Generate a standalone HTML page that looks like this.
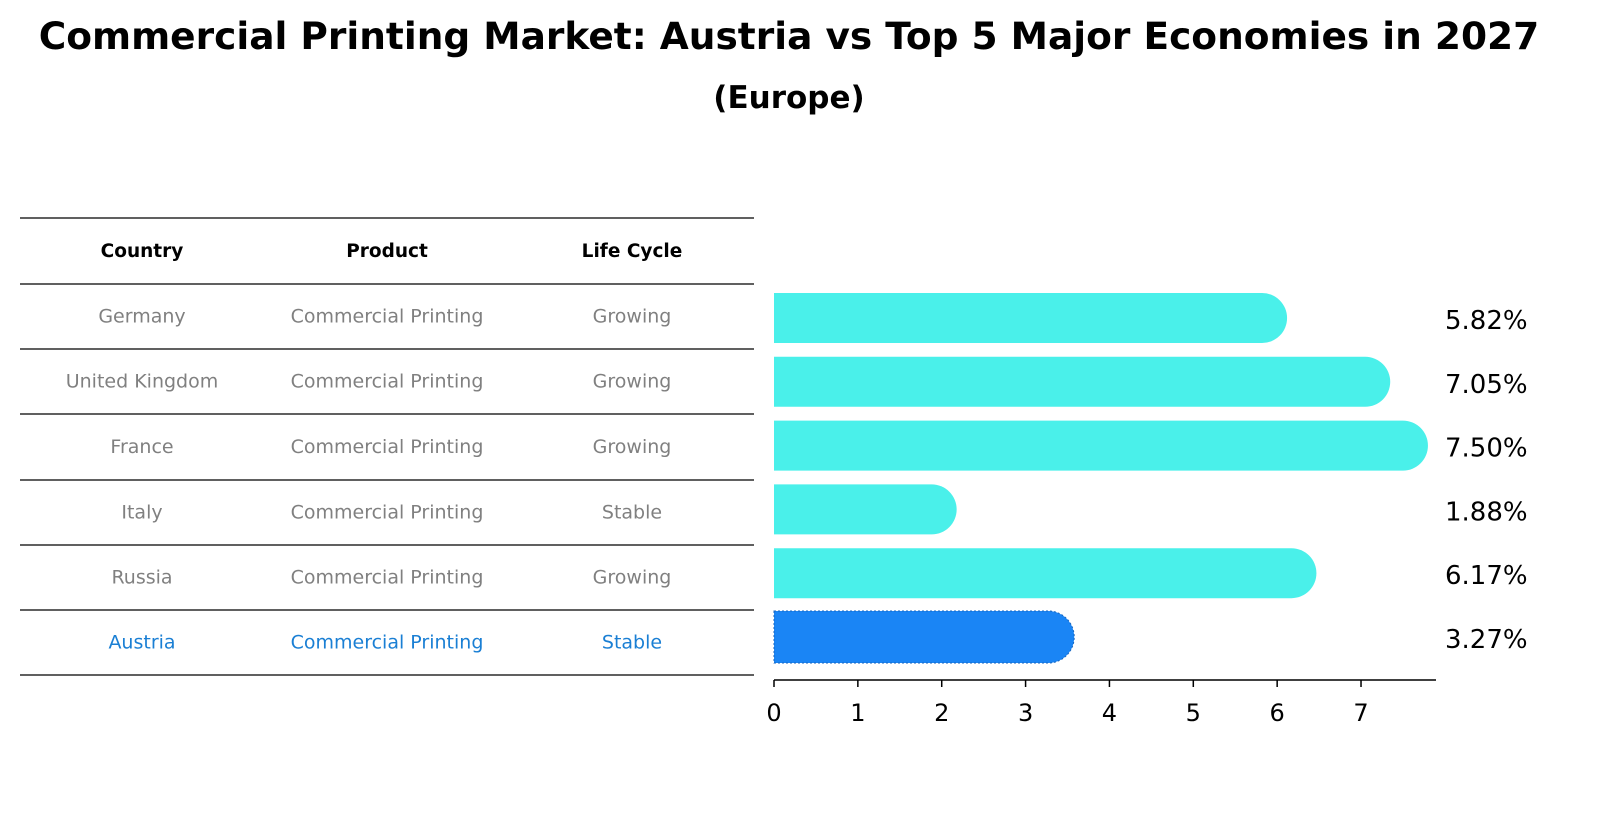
<!DOCTYPE html>
<html><head><meta charset="utf-8"><style>
body{margin:0;background:#fff;width:1604px;height:823px;overflow:hidden;font-family:"DejaVu Sans","Liberation Sans",sans-serif}
</style></head><body>
<svg width="1604" height="823" xmlns="http://www.w3.org/2000/svg" font-family="DejaVu Sans, Liberation Sans, sans-serif">
<text x="789" y="49" text-anchor="middle" font-size="37.5" font-weight="bold">Commercial Printing Market: Austria vs Top 5 Major Economies in 2027</text>
<text x="789" y="108" text-anchor="middle" font-size="31" font-weight="bold">(Europe)</text>
<g id="table"></g>
<g id="bars"></g>
</svg>
<script>
const countries=["Germany","United Kingdom","France","Italy","Russia","Austria"];
const products=["Commercial Printing","Commercial Printing","Commercial Printing","Commercial Printing","Commercial Printing","Commercial Printing"];
const lifecycle=["Growing","Growing","Growing","Stable","Growing","Stable"];
const values=[5.82,7.05,7.50,1.88,6.17,3.27];
const ticks=[0,1,2,3,4,5,6,7];
const NS="http://www.w3.org/2000/svg";
function mk(t,a,p,txt){const e=document.createElementNS(NS,t);for(const k in a)e.setAttribute(k,a[k]);if(txt!==undefined)e.textContent=txt;p.appendChild(e);return e;}
const x=v=>774+v*83.86;
const rowY=i=>318+i*63.8;
const tb=document.getElementById('table');
const colX=[142,387,632];
const lineYs=[218,284,349,414,480,545,610,675];
lineYs.forEach(y=>{const l=mk('line',{x1:20,x2:754,y1:y,y2:y,stroke:'#000','stroke-width':1.2},tb);

});
["Country","Product","Life Cycle"].forEach((h,j)=>{const t=mk('text',{x:colX[j],y:257,'text-anchor':'middle','font-size':18.5,'font-weight':'bold'},tb,h);

});
countries.forEach((c,i)=>{const y=(lineYs[i+1]+lineYs[i+2])/2+6;const col=i===5?'#1a7fd4':'#808080';
[c,products[i],lifecycle[i]].forEach((s,j)=>{const t=mk('text',{x:colX[j],y:y,'text-anchor':'middle','font-size':19,fill:col},tb,s);

});});
const g=document.getElementById('bars');
values.forEach((v,i)=>{const cy=rowY(i);const col=i===5?'#1a85f5':'#4af0ea';const h=i===5?52:50;
const r=mk('path',{d:`M${x(0)},${cy-h/2}H${x(v)}A${h/2},${h/2} 0 0 1 ${x(v)},${cy+h/2}H${x(0)}Z`,fill:col},g);
if(i===5){r.setAttribute('stroke','#1565c0');r.setAttribute('stroke-dasharray','2 2');r.setAttribute('stroke-width','1');}


const t=mk('text',{x:1445,y:cy+11,'font-size':26},g,v.toFixed(2)+'%');

});
const ax=mk('line',{x1:774,x2:1436,y1:680,y2:680,stroke:'#000','stroke-width':1.5},g);


ticks.forEach(tk=>{const l=mk('line',{x1:x(tk),x2:x(tk),y1:680,y2:687,stroke:'#000','stroke-width':1.5},g);


const t=mk('text',{x:x(tk),y:721,'text-anchor':'middle','font-size':24},g,String(tk));

});
</script>
</body></html>
